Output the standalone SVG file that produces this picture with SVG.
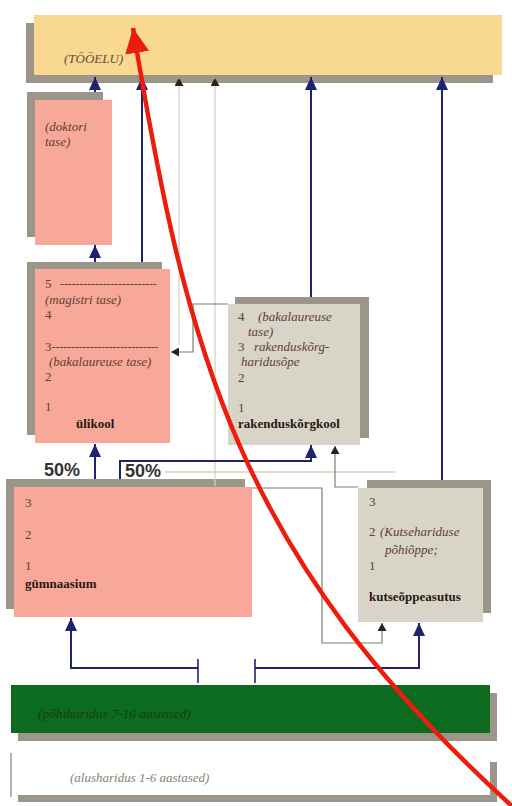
<svg xmlns="http://www.w3.org/2000/svg" width="512" height="806" viewBox="0 0 512 806">
  <style>
    .sh { fill: #9c968a; }
    .pink { fill: #f8a898; }
    .beige { fill: #d9d4c8; }
    .lvl { font-family: "Liberation Serif", serif; font-size: 13px; fill: #5e4034; }
    .it { font-family: "Liberation Serif", serif; font-size: 13px; font-style: italic; fill: #5e4034; }
    .bd { font-family: "Liberation Serif", serif; font-size: 13px; font-weight: bold; fill: #2a1812; }
    .pct { font-family: "Liberation Sans", Arial, sans-serif; font-size: 18px; font-weight: bold; fill: #333330; }
    .blue { stroke: #1e2370; stroke-width: 2; fill: none; }
    .thin { stroke: #7d8070; stroke-width: 1.2; fill: none; }
    .faint { stroke: #d9d0c0; stroke-width: 1.3; fill: none; }
  </style>
  <defs>
    <marker id="ab" markerUnits="userSpaceOnUse" markerWidth="14" markerHeight="12" viewBox="0 0 14 12" refX="13" refY="6" orient="auto">
      <path d="M0,0 L13,6 L0,12 z" fill="#1e2370"/>
    </marker>
    <marker id="ak" markerUnits="userSpaceOnUse" markerWidth="9" markerHeight="9" viewBox="0 0 9 9" refX="8" refY="4.5" orient="auto">
      <path d="M0,0 L8,4.5 L0,9 z" fill="#2a2418"/>
    </marker>
    <marker id="ar" markerUnits="userSpaceOnUse" markerWidth="26" markerHeight="24" viewBox="0 0 26 24" refX="25" refY="12" orient="auto">
      <path d="M0,0 L25,12 L0,24 z" fill="#ee1c0c"/>
    </marker>
  </defs>

  <rect width="512" height="806" fill="#ffffff"/>

  <!-- working life -->
  <g id="tooelu">
    <rect class="sh" x="26" y="23" width="467" height="60"/>
    <rect x="34" y="15" width="468" height="60" fill="#f9d892"/>
    <text class="it" x="64" y="63" style="fill:#6e4a2c">(TÖÖELU)</text>
  </g>

  <!-- doctoral level -->
  <g id="doktori">
    <rect class="sh" x="27" y="92" width="76" height="145"/>
    <rect class="pink" x="35" y="100" width="77" height="145"/>
    <text class="it" x="45" y="131">(doktori</text>
    <text class="it" x="45" y="146">tase)</text>
  </g>

  <!-- university -->
  <g id="ulikool">
    <rect class="sh" x="27" y="262" width="135" height="173"/>
    <rect class="pink" x="35" y="269" width="135" height="174"/>
    <text class="lvl" x="45" y="288">5</text>
    <text class="lvl" x="60" y="288" textLength="97" lengthAdjust="spacingAndGlyphs">-------------------------</text>
    <text class="it" x="45" y="304">(magistri tase)</text>
    <text class="lvl" x="45" y="319">4</text>
    <text class="lvl" x="45" y="351">3</text>
    <text class="lvl" x="52" y="351" textLength="106" lengthAdjust="spacingAndGlyphs">----------------------------</text>
    <text class="it" x="49" y="366">(bakalaureuse tase)</text>
    <text class="lvl" x="45" y="381">2</text>
    <text class="lvl" x="45" y="411">1</text>
    <text class="bd" x="76" y="428">ülikool</text>
  </g>

  <!-- applied higher education -->
  <g id="rakenduskorgkool">
    <rect class="sh" x="235" y="297" width="134" height="141"/>
    <rect class="beige" x="228" y="304" width="132" height="141"/>
    <text class="lvl" x="238" y="321">4</text>
    <text class="it" x="258" y="321">(bakalaureuse</text>
    <text class="it" x="248" y="336">tase)</text>
    <text class="lvl" x="238" y="351">3</text>
    <text class="it" x="254" y="351">rakenduskõrg-</text>
    <text class="it" x="241" y="366">haridusõpe</text>
    <text class="lvl" x="238" y="382">2</text>
    <text class="lvl" x="238" y="412">1</text>
    <text class="bd" x="238" y="428">rakenduskõrgkool</text>
  </g>

  <!-- upper secondary -->
  <g id="gumnaasium">
    <rect class="sh" x="6" y="479" width="239" height="130"/>
    <rect class="pink" x="14" y="487" width="238" height="130"/>
    <text class="lvl" x="25" y="507">3</text>
    <text class="lvl" x="25" y="539">2</text>
    <text class="lvl" x="25" y="570">1</text>
    <text class="bd" x="25" y="588">gümnaasium</text>
  </g>

  <!-- vocational school -->
  <g id="kutseoppeasutus">
    <rect class="sh" x="367" y="480" width="124" height="133"/>
    <rect class="beige" x="358" y="488" width="125" height="134"/>
    <text class="lvl" x="369" y="506">3</text>
    <text class="lvl" x="369" y="536">2</text>
    <text class="it" x="380" y="536">(Kutsehariduse</text>
    <text class="it" x="385" y="554">põhiõppe;</text>
    <text class="lvl" x="369" y="570">1</text>
    <text class="bd" x="369" y="601">kutseõppeasutus</text>
  </g>

  <!-- basic education -->
  <g id="pohiharidus">
    <rect class="sh" x="18" y="693" width="479" height="48"/>
    <rect x="11" y="685" width="479" height="48" fill="#0c6b1f"/>
    <text class="it" x="38" y="718" style="fill:#143e17;font-size:13.5px">(põhiharidus 7-16 aastased)</text>
  </g>

  <!-- pre-school education -->
  <g id="alusharidus">
    <rect class="sh" x="18" y="762" width="479" height="40"/>
    <rect x="11" y="753" width="479" height="42" fill="#ffffff"/>
    <line x1="11" y1="753" x2="11" y2="797" stroke="#a09888" stroke-width="1.5"/>
    <text class="it" x="70" y="782" style="fill:#8a7f70">(alusharidus 1-6 aastased)</text>
  </g>

  <g id="labels">
    <text class="pct" x="44" y="476">50%</text>
    <text class="pct" x="125" y="477">50%</text>
  </g>

  <!-- connectors -->
  <g id="connectors">
    <!-- faint guide lines -->
    <path class="faint" d="M179,345 V78" marker-end="url(#ak)"/>
    <path class="faint" d="M215,486 V78" marker-end="url(#ak)"/>
    <path class="faint" d="M165,472 H395"/>

    <!-- blue routes -->
    <path class="blue" d="M95,92 V77" marker-end="url(#ab)"/>
    <path class="blue" d="M95,262 V245" marker-end="url(#ab)"/>
    <path class="blue" d="M142,262 V77" marker-end="url(#ab)"/>
    <path class="blue" d="M311,297 V77" marker-end="url(#ab)"/>
    <path class="blue" d="M442,480 V77" marker-end="url(#ab)"/>
    <path class="blue" d="M95,479 V444" marker-end="url(#ab)"/>
    <path class="blue" d="M120,479 V461 H311 V445" marker-end="url(#ab)"/>
    <path class="blue" d="M198,668 H71 V618" marker-end="url(#ab)"/>
    <path class="blue" d="M255,668 H419 V623" marker-end="url(#ab)"/>
    <path class="blue" d="M198,659 V683 M255,659 V683" style="stroke-width:1.6"/>

    <!-- thin routes -->
    <path class="thin" d="M228,304 H193 V352 H171" marker-end="url(#ak)"/>
    <path class="thin" d="M358,487 H335 V446" marker-end="url(#ak)"/>
    <path class="thin" d="M252,488 H322 V643 H382 V623" marker-end="url(#ak)"/>

    <!-- red overall path -->
    <path d="M514,808 C237,556 187,355 133,28" fill="none" stroke="#ee1c0c" stroke-width="4.5" marker-end="url(#ar)"/>
  </g>
</svg>
